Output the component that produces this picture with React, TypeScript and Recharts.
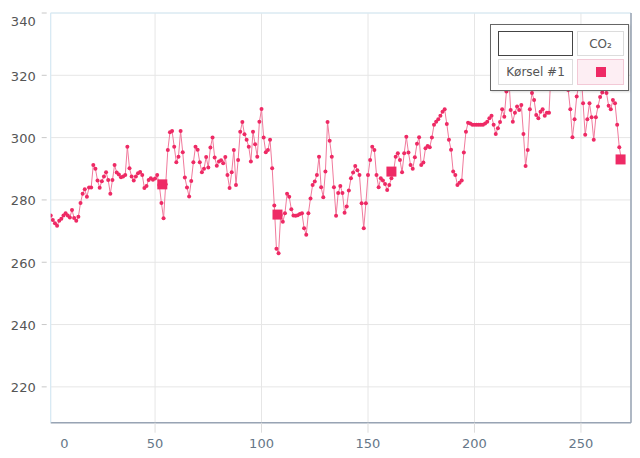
import React from "react";
import {
  ComposedChart,
  Line,
  Scatter,
  XAxis,
  YAxis,
  CartesianGrid,
  ReferenceLine,
} from "recharts";

const co2: number[] = [
  275, 273.6, 272.5, 271.7, 273.3, 274, 275, 275.7, 275, 274.4,
  276.8, 274.2, 273.3, 274.6, 279, 282, 283.4, 281, 284, 284,
  291.2, 290, 286.2, 283.9, 286, 287.5, 288.9, 286.4, 282, 286.4,
  291.2, 288.8, 288.2, 287.3, 287.5, 288, 297.1, 290.2, 287.5, 286.2,
  287.5, 288.6, 289, 288, 283.8, 284.5, 286.4, 287, 286.5, 286.9,
  288, 284.8, 279, 274.1, 285, 296, 301.7, 302.1, 297.1, 292.1,
  293.9, 302.1, 295.3, 287.2, 284, 281.1, 286.1, 292.1, 297.1, 296.1,
  292.1, 288.9, 290, 293.8, 290.4, 296.8, 300, 293.6, 291, 292.3,
  292.7, 291.8, 293.8, 288, 283.8, 288.9, 296, 284.8, 292.8, 301.9,
  305, 301.1, 299.3, 297.1, 292.3, 301.9, 297.9, 293.9, 305.1, 309.2,
  300, 295.3, 296, 299.3, 290.2, 278.2, 264.3, 262.9, 275.2, 273,
  275.7, 282, 281, 277, 275, 274.9, 275.1, 275.5, 275.7, 270.9,
  268.8, 275.7, 280.5, 284.8, 285.9, 288, 293.9, 284.1, 280.9, 289.1,
  305, 299, 293.9, 284.1, 274.9, 282.2, 284.5, 282.2, 275.9, 277.9,
  283, 287, 288.8, 290.9, 289.5, 288, 278.9, 270.9, 278.9, 288,
  292.8, 297.1, 296, 288, 284.1, 287, 286.2, 285.1, 283.2, 284.8,
  287, 289.1, 293.9, 295, 292.8, 288.9, 295, 300.3, 295.2, 291.2,
  290, 293.7, 298, 300.1, 291.2, 292, 296.6, 297.3, 296.9, 300,
  304.1, 305.1, 305.9, 307, 308.3, 309.1, 304.4, 299.3, 296.1, 289.1,
  288, 284.8, 285.5, 286.2, 295.2, 301.9, 304.8, 304.5, 304.1, 304.1,
  304.1, 304.1, 304.1, 304.1, 304.5, 305.1, 306.2, 307, 304.1, 301.2,
  303, 305, 309.1, 306.7, 314.8, 321, 308.9, 305.1, 308, 310,
  308.9, 310.5, 301.2, 290.9, 296, 309.1, 314.3, 312.1, 307.3, 306.2,
  308.3, 309.1, 307, 308, 308, 322, 325, 320, 327, 322,
  318, 326, 320, 315.3, 309.1, 300.1, 305.9, 313.2, 317, 322,
  311, 300.9, 305.9, 311, 306.5, 299.3, 306.5, 310, 313, 314.5,
  316, 314.3, 310.2, 309.1, 312.1, 311, 304.1, 296.9, 293,
];

const markerX: number[] = [53.4, 107.5, 161, 268.6];
const markerY: number[] = [285, 275.3, 289.1, 293];

const xTicks: number[] = [1, 50, 100, 150, 200, 250];
const xTickLabels: string[] = ["0", "50", "100", "150", "200", "250"];
const yTicks: number[] = [220, 240, 260, 280, 300, 320, 340];

const X_MIN = 1;
const X_MAX = 273.5;
const Y_MIN = 208.5;
const Y_MAX = 340;

const lineData = co2.map((v, i) => ({ x: i + 1, y: v }));
const markerData = markerX.map((x, i) => ({ x, y: markerY[i] }));

const RED = "#ee2a65";
const FONT = "'DejaVu Sans', Verdana, sans-serif";

const YTick = (props: any) => {
  const { x, y, payload } = props;
  const first = payload.value === Y_MAX;
  return (
    <g>
      <line x1={x - 9} x2={x - 4} y1={y} y2={y} stroke="#c8c8c8" />
      <text
        x={x - 15}
        y={y + (first ? 8.3 : 0.7)}
        dy="0.36em"
        textAnchor="end"
        fill="#555"
        fontSize={13}
        fontFamily={FONT}
      >
        {payload.value}
      </text>
    </g>
  );
};

const XTick = (props: any) => {
  const { x, y, payload, index } = props;
  const first = index === 0;
  return (
    <g>
      {!first && <line x1={x} x2={x} y1={y} y2={y + 10} stroke="#dddddd" />}
      <text
        x={first ? x + 13.6 : x}
        y={y + 20.6}
        dy="0.36em"
        textAnchor="middle"
        fill="#667788"
        fontSize={13}
        fontFamily={FONT}
      >
        {xTickLabels[index] ?? payload.value}
      </text>
    </g>
  );
};

const SquareShape = (props: any) => {
  const { cx, cy } = props;
  return <rect x={cx - 5} y={cy - 5} width={10} height={10} fill={RED} />;
};

const cellBase: React.CSSProperties = {
  position: "absolute",
  boxSizing: "border-box",
  display: "flex",
  alignItems: "center",
  justifyContent: "center",
  fontFamily: FONT,
  fontSize: 12,
  color: "#555",
};

const LegendBox = () => (
  <div
    style={{
      position: "absolute",
      left: 490,
      top: 24,
      width: 139,
      height: 67,
      boxSizing: "border-box",
      border: "1px solid #666",
      background: "#fff",
      boxShadow: "1px 1px 2px rgba(0,0,0,0.15)",
    }}
  >
    <div
      style={{
        ...cellBase,
        left: 7,
        top: 6,
        width: 75,
        height: 25,
        border: "1.5px solid #444",
      }}
    />
    <div
      style={{
        ...cellBase,
        left: 86,
        top: 6,
        width: 47,
        height: 25,
        border: "1px solid #dcdcdc",
      }}
    >
      CO₂
    </div>
    <div
      style={{
        ...cellBase,
        left: 7,
        top: 34,
        width: 75,
        height: 26,
        border: "1px solid #dcdcdc",
      }}
    >
      Kørsel #1
    </div>
    <div
      style={{
        ...cellBase,
        left: 86,
        top: 34,
        width: 47,
        height: 26,
        border: "1px solid #f3c9d6",
        background: "#fdeef3",
      }}
    >
      <div style={{ width: 10, height: 10, background: RED }} />
    </div>
  </div>
);

export default function App() {
  return (
    <div
      style={{
        position: "absolute",
        left: 0,
        top: 0,
        width: 640,
        height: 458,
        background: "#fff",
      }}
    >
      <ComposedChart
        width={640}
        height={458}
        margin={{ top: 13, right: 9, left: 0, bottom: 0 }}
      >
        <CartesianGrid stroke="#e6e6e6" strokeWidth={1} />
        <XAxis
          type="number"
          dataKey="x"
          domain={[X_MIN, X_MAX]}
          ticks={xTicks}
          allowDataOverflow
          height={35.3}
          tickSize={0}
          tickMargin={0}
          tick={<XTick />}
          axisLine={{ stroke: "#98a4b4", strokeWidth: 1.5 }}
          tickLine={false}
          interval={0}
        />
        <YAxis
          type="number"
          dataKey="y"
          domain={[Y_MIN, Y_MAX]}
          ticks={yTicks}
          allowDataOverflow
          width={50.7}
          tickSize={0}
          tickMargin={0}
          tick={<YTick />}
          axisLine={{ stroke: "#d4ebf7" }}
          tickLine={false}
          interval={0}
        />
        <ReferenceLine y={Y_MAX} stroke="#d4ebf7" />
        <ReferenceLine x={X_MAX} stroke="#98a4b4" strokeWidth={1.5} />
        <Line
          data={lineData}
          dataKey="y"
          type="linear"
          stroke="#f07a9c"
          strokeWidth={1}
          dot={{ r: 2, fill: RED, stroke: "none" }}
          activeDot={false}
          isAnimationActive={false}
        />
        <Scatter
          data={markerData}
          dataKey="y"
          shape={<SquareShape />}
          isAnimationActive={false}
        />
      </ComposedChart>
      <LegendBox />
    </div>
  );
}
